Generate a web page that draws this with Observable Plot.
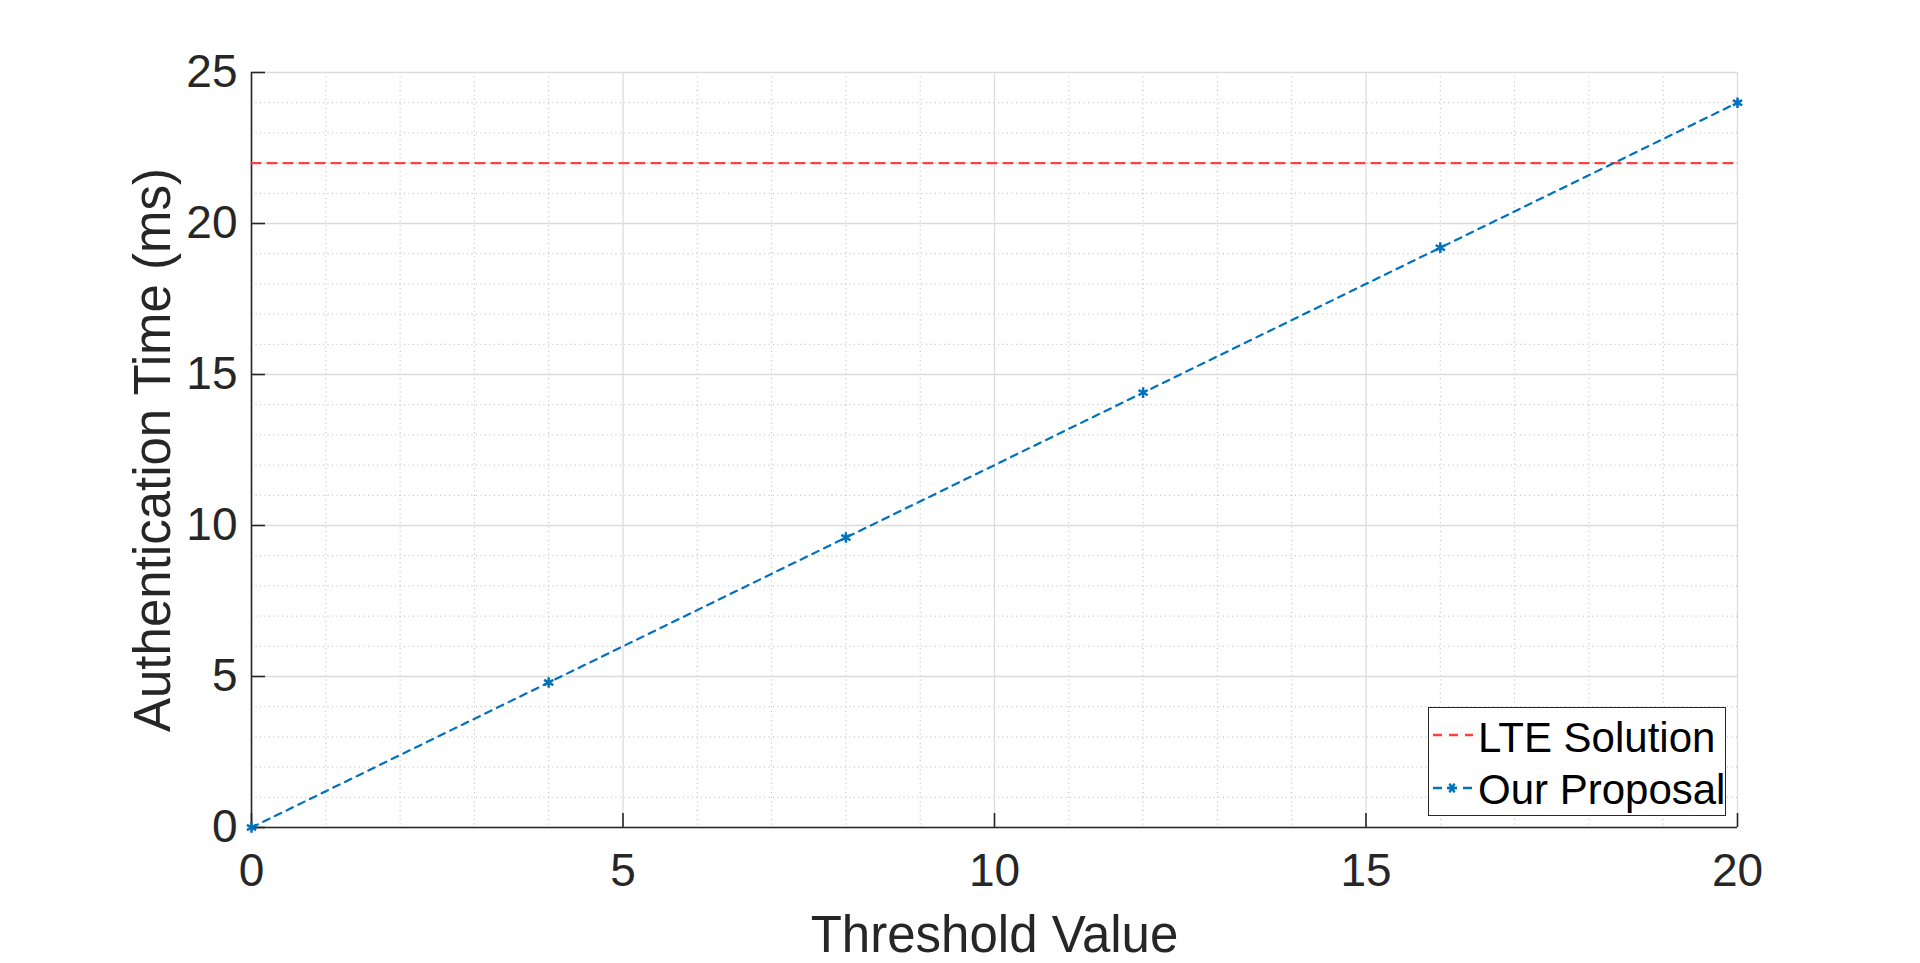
<!DOCTYPE html>
<html>
<head>
<meta charset="utf-8">
<script src="https://cdn.jsdelivr.net/npm/d3@7"></script>
<script src="https://cdn.jsdelivr.net/npm/@observablehq/plot@0.6"></script>
<style>
  html, body { margin: 0; padding: 0; background: #fff; }
  #wrap { position: relative; width: 1920px; height: 963px; font-family: "Liberation Sans", Arial, Helvetica, sans-serif; }
  #legend { position: absolute; left: 1428px; top: 707px; width: 296px; height: 107px; background: #fff; border: 1.5px solid #262626; }
  #legend svg { position: absolute; left: 0; top: 0; }
</style>
</head>
<body>
<div id="wrap"></div>
<script>
// ---- data ----
const thresholds = [0, 4, 8, 12, 16, 20];
const proposalTime = [0, 4.8, 9.6, 14.4, 19.2, 24];
const lteThresholds = [0, 20];
const lteTime = [22, 22];
const xTicks = [0, 5, 10, 15, 20];
const yTicks = [0, 5, 10, 15, 20, 25];
const xMinor = [1, 2, 3, 4, 6, 7, 8, 9, 11, 12, 13, 14, 16, 17, 18, 19];
const yMinor = [1, 2, 3, 4, 6, 7, 8, 9, 11, 12, 13, 14, 16, 17, 18, 19, 21, 22, 23, 24];
const seriesNames = ["LTE Solution", "Our Proposal"];
const xLabel = "Threshold Value";
const yLabel = "Authentication Time (ms)";

const proposal = thresholds.map((t, i) => ({x: t, y: proposalTime[i]}));
const lte = lteThresholds.map((t, i) => ({x: t, y: lteTime[i]}));

const red = "#ff4040";
const blue = "#0072bd";
const ink = "#262626";

const chart = Plot.plot({
  width: 1920,
  height: 963,
  marginLeft: 251,
  marginRight: 183,
  marginTop: 72,
  marginBottom: 136,
  style: {fontFamily: '"Liberation Sans", Arial, Helvetica, sans-serif', background: "#fff", color: ink},
  x: {domain: [0, 20]},
  y: {domain: [0, 25]},
  marks: [
    // minor grid (dotted)
    Plot.ruleX(xMinor, {stroke: "#b8b8b8", strokeWidth: 1, strokeDasharray: "1,3.5"}),
    Plot.ruleY(yMinor, {stroke: "#b8b8b8", strokeWidth: 1, strokeDasharray: "1,3.5"}),
    // major grid
    Plot.ruleX(xTicks, {stroke: "#dcdcdc", strokeWidth: 1.3}),
    Plot.ruleY(yTicks, {stroke: "#dcdcdc", strokeWidth: 1.3}),
    // axes lines (left & bottom)
    Plot.ruleX([0], {stroke: ink, strokeWidth: 1.6}),
    Plot.ruleY([0], {stroke: ink, strokeWidth: 1.6}),
    // inward ticks
    Plot.ruleX(xTicks, {y1: 0, y2: 0, insetTop: -14, stroke: ink, strokeWidth: 1.6}),
    Plot.ruleY(yTicks, {x1: 0, x2: 0, insetRight: -14, stroke: ink, strokeWidth: 1.6}),
    // tick labels
    Plot.axisX(xTicks, {tickSize: 0, tickPadding: 26, fontSize: 46, label: null, color: ink}),
    Plot.axisY(yTicks, {tickSize: 0, tickPadding: 14, fontSize: 46, label: null, color: ink}),
    // axis titles
    Plot.text([xLabel], {frameAnchor: "bottom", textAnchor: "middle", lineAnchor: "top", dy: 88, fontSize: 51, fill: ink}),
    Plot.text([yLabel], {frameAnchor: "left", textAnchor: "middle", lineAnchor: "top", rotate: -90, dx: -118, fontSize: 51, fill: ink}),
    // data
    Plot.line(lte, {x: "x", y: "y", stroke: red, strokeWidth: 2.4, strokeDasharray: "9,7"}),
    Plot.line(proposal, {x: "x", y: "y", stroke: blue, strokeWidth: 2.2, strokeDasharray: "7,6"}),
    Plot.dot(proposal, {x: "x", y: "y", symbol: "asterisk", r: 5, stroke: blue, strokeWidth: 2.5})
  ]
});

const wrap = document.getElementById("wrap");
wrap.appendChild(chart);

// legend
const legend = document.createElement("div");
legend.id = "legend";
legend.innerHTML = `
<svg width="296" height="107" font-family='"Liberation Sans", Arial, Helvetica, sans-serif'>
  <line x1="4" x2="44" y1="27" y2="27" stroke="${red}" stroke-width="2.6" stroke-dasharray="9,7"></line>
  <text x="49" y="44" font-size="42" fill="#000">${seriesNames[0]}</text>
  <line x1="4" x2="44" y1="80" y2="80" stroke="${blue}" stroke-width="2.6" stroke-dasharray="9,6"></line>
  <g transform="translate(23,80)" stroke="${blue}" stroke-width="2.5">
    <line x1="-5" x2="5" y1="0" y2="0"></line>
    <line x1="-2.5" x2="2.5" y1="-4.3" y2="4.3"></line>
    <line x1="-2.5" x2="2.5" y1="4.3" y2="-4.3"></line>
  </g>
  <text x="49" y="96" font-size="42" fill="#000">${seriesNames[1]}</text>
</svg>`;
wrap.appendChild(legend);
</script>
</body>
</html>
